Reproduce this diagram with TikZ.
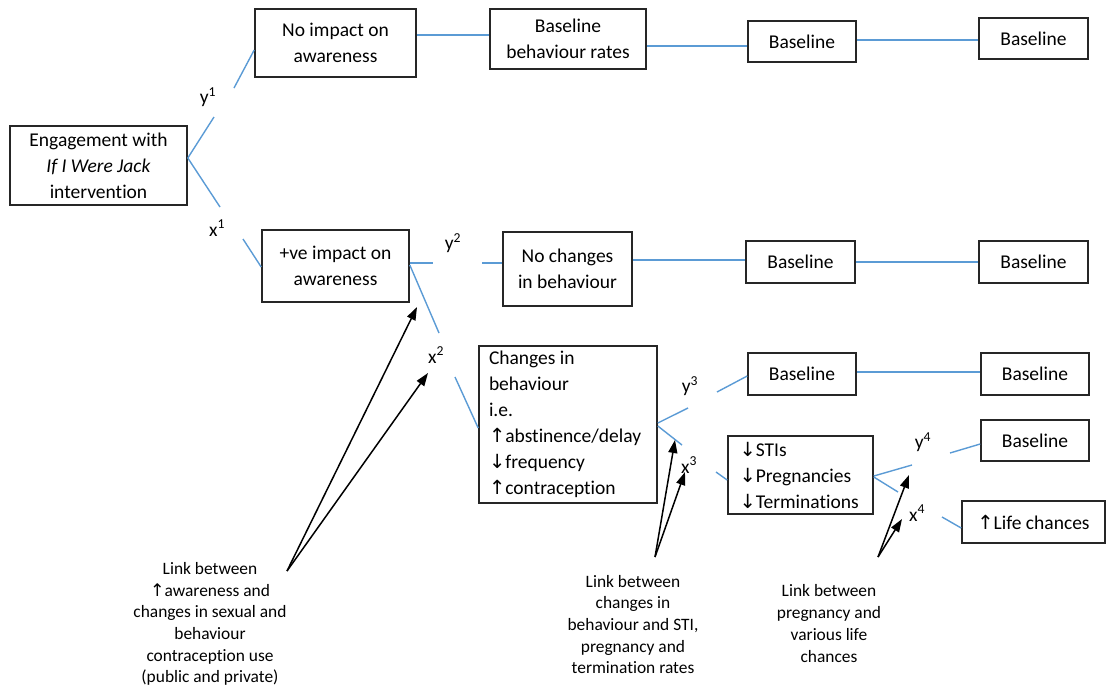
\documentclass[tikz,border=0pt]{standalone}
\usepackage{fontspec}
\setmainfont{Carlito}[Ligatures=NoCommon]
\newfontfamily\arrfont{DejaVu Sans}
\usetikzlibrary{arrows.meta}
\definecolor{lnblue}{RGB}{91,155,213}
\newcommand\boxfont{\fontsize{19.5}{26}\selectfont}
\newcommand\labfont{\fontsize{17.4}{21.7}\selectfont}
\newcommand\uparr{{\arrfont\fontsize{19.5}{26}\selectfont ↑}}
\newcommand\dnarr{{\arrfont\fontsize{19.5}{26}\selectfont ↓}}
\newcommand\uparrs{{\arrfont\fontsize{17.4}{21.7}\selectfont ↑}}
\tikzset{
  box/.style={draw=black!85, line width=1.6pt, inner sep=0pt, align=center, font=\boxfont},
  conn/.style={draw=lnblue, line width=1.4pt},
  arr/.style={draw=black, line width=1.5pt, -{Triangle[length=13pt,width=9pt]}},
  lab/.style={font=\labfont, align=center, inner sep=0pt},
  brk/.style={font=\boxfont, inner sep=0pt},
}
\begin{document}
\begin{tikzpicture}[x=1pt,y=-1pt]
\useasboundingbox (0,0) rectangle (1106,689);

% boxes
\node[box, minimum width=177pt, minimum height=79pt] (eng) at (98.5,165.5) {Engagement with\\\textit{If I Were Jack}\\intervention};
\node[box, minimum width=161pt, minimum height=68pt] (noimp) at (335.5,43) {No impact on\\awareness};
\node[box, minimum width=147pt, minimum height=72pt] (pos) at (335.5,266) {+ve impact on\\awareness};
\node[box, minimum width=156pt, minimum height=60pt] (bbr) at (568,39) {Baseline\\behaviour rates};
\node[box, minimum width=108pt, minimum height=41pt] (b13) at (802,41.5) {Baseline};
\node[box, minimum width=109pt, minimum height=41pt] (b14) at (1033.5,38.5) {Baseline};
\node[box, minimum width=129pt, minimum height=74pt] (noch) at (567.5,269) {No changes\\in behaviour};
\node[box, minimum width=109pt, minimum height=42pt] (b23) at (800.5,262) {Baseline};
\node[box, minimum width=109pt, minimum height=42pt] (b24) at (1033.5,262) {Baseline};
\node[box, minimum width=178pt, minimum height=157pt, text width=158pt, align=flush left] (chg) at (568,424.5) {Changes in\\behaviour\\i.e.\\\uparr abstinence/delay\\\dnarr frequency\\\uparr contraception};
\node[box, minimum width=108pt, minimum height=42pt] (b33) at (802,374) {Baseline};
\node[box, minimum width=108pt, minimum height=42pt] (b34) at (1035,374) {Baseline};
\node[box, minimum width=145pt, minimum height=78pt, text width=122pt, align=flush left] (sti) at (800.5,475) {\dnarr STIs\\\dnarr Pregnancies\\\dnarr Terminations};
\node[box, minimum width=108pt, minimum height=41pt] (b44) at (1035,440.5) {Baseline};
\node[box, minimum width=143pt, minimum height=42pt] (life) at (1033.5,522) {\uparr Life chances};

% branch labels
\node[brk] (y1) at (208,97) {y\textsuperscript{1}};
\node[brk] (x1) at (217,228) {x\textsuperscript{1}};
\node[brk] (y2) at (453,243) {y\textsuperscript{2}};
\node[brk] (x2) at (436,355) {x\textsuperscript{2}};
\node[brk] (y3) at (690,386) {y\textsuperscript{3}};
\node[brk] (x3) at (689,465) {x\textsuperscript{3}};
\node[brk] (y4) at (923,442) {y\textsuperscript{4}};
\node[brk] (x4) at (917,513) {x\textsuperscript{4}};

% break coordinates
\coordinate (y1a) at (214,117); \coordinate (y1b) at (234,88);
\coordinate (x1a) at (220,207); \coordinate (x1b) at (243,239);
\coordinate (y2a) at (433,263); \coordinate (y2b) at (482,263);
\coordinate (x2a) at (439,333); \coordinate (x2b) at (455,377);
\coordinate (y3a) at (688,408); \coordinate (y3b) at (717,392);
\coordinate (x3a) at (682,445); \coordinate (x3b) at (716,472);
\coordinate (y4a) at (912,465); \coordinate (y4b) at (950,453);
\coordinate (x4a) at (898,492); \coordinate (x4b) at (942,517);

% blue connectors
\draw[conn] ([yshift=7.5pt]eng.east) -- (y1a);
\draw[conn] (y1b) -- ([yshift=-7pt]noimp.west);
\draw[conn] ([yshift=7.5pt]eng.east) -- (x1a);
\draw[conn] (x1b) -- ([yshift=-1pt]pos.west);
\draw[conn] ([yshift=8pt]noimp.east) -- ([yshift=4pt]bbr.west);
\draw[conn] ([yshift=-7pt]bbr.east) -- ([yshift=-4.5pt]b13.west);
\draw[conn] ([yshift=1.5pt]b13.east) -- ([yshift=-1.5pt]b14.west);
\draw[conn] ([yshift=3pt]pos.east) -- (y2a);
\draw[conn] (y2b) -- ([yshift=6pt]noch.west);
\draw[conn] ([yshift=9pt]noch.east) -- ([yshift=2pt]b23.west);
\draw[conn] (b23.east) -- (b24.west);
\draw[conn] ([yshift=1pt]pos.east) -- (x2a);
\draw[conn] (x2b) -- ([yshift=-3.5pt]chg.west);
\draw[conn] ([yshift=1.5pt]chg.east) -- (y3a);
\draw[conn] (y3b) -- ([yshift=-2pt]b33.west);
\draw[conn] ([yshift=-1.5pt]chg.east) -- (x3a);
\draw[conn] (x3b) -- ([yshift=-5pt]sti.west);
\draw[conn] ([yshift=2pt]b33.east) -- ([yshift=2pt]b34.west);
\draw[conn] ([yshift=-1pt]sti.east) -- (y4a);
\draw[conn] (y4b) -- ([yshift=-3.5pt]b44.west);
\draw[conn] ([yshift=-2pt]sti.east) -- (x4a);
\draw[conn] (x4b) -- ([yshift=-6pt]life.west);

% link labels
\node[lab] (L1) at (210,624) {Link between\\\uparrs awareness and\\changes in sexual and\\behaviour\\contraception use\\(public and private)};
\node[lab] (L2) at (633,624.5) {Link between\\changes in\\behaviour and STI,\\pregnancy and\\termination rates};
\node[lab] (L3) at (829,623.5) {Link between\\pregnancy and\\various life\\chances};

% arrows
\coordinate (a1) at (287,571); \coordinate (t1a) at (417,307); \coordinate (t1b) at (428,373);
\coordinate (a2) at (655,557); \coordinate (t2a) at (675,440); \coordinate (t2b) at (685,472);
\coordinate (a3) at (878,557); \coordinate (t3a) at (909,475); \coordinate (t3b) at (902,519);
\draw[arr] (a1) -- (t1a);
\draw[arr] (a1) -- (t1b);
\draw[arr] (a2) -- (t2a);
\draw[arr] (a2) -- (t2b);
\draw[arr] (a3) -- (t3a);
\draw[arr] (a3) -- (t3b);
\end{tikzpicture}
\end{document}
